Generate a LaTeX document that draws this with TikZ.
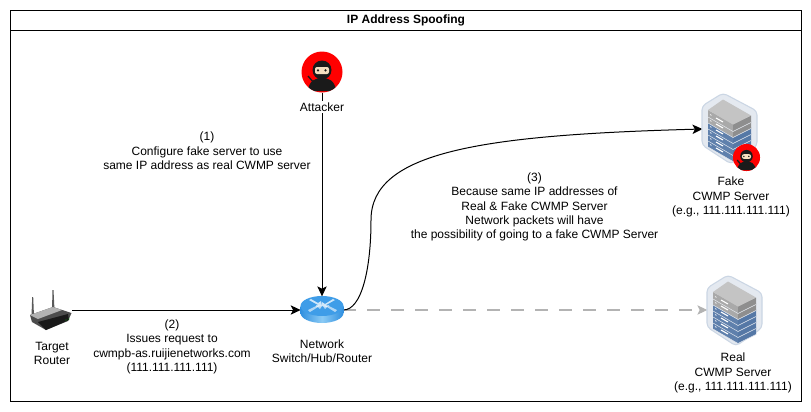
\documentclass[tikz,border=0pt]{standalone}
\usepackage{fontspec}
\setmainfont{Liberation Sans}
\usetikzlibrary{arrows.meta}
\definecolor{hexfill}{HTML}{E4E9F0}
\definecolor{hexline}{HTML}{CBD6E4}
\definecolor{gtop}{HTML}{C4C4C4}
\definecolor{gleft}{HTML}{A9A9A9}
\definecolor{gright}{HTML}{8E8E8E}
\definecolor{btop}{HTML}{7E9CC2}
\definecolor{bleft}{HTML}{5F80AC}
\definecolor{bright}{HTML}{5578A6}
\definecolor{skin}{HTML}{F5DFC0}
\definecolor{ink}{HTML}{1A1A1A}
\definecolor{ghostgrey}{HTML}{B3B3B3}
\definecolor{hubtop}{HTML}{3F9DE8}
\definecolor{hubedge}{HTML}{2F8FE0}
\definecolor{hubmid}{HTML}{8CCBF5}
\definecolor{slabseam}{HTML}{E8ECF2}
\tikzset{
  lbl/.style={font=\fontsize{9pt}{10.8pt}\selectfont,align=center,text=black,inner sep=1pt},
  iconbox/.style={inner sep=0pt,outer sep=0pt,draw=none,fill=none},
  flow/.style={draw=black,line width=.75pt,-{Stealth[length=7.5pt,width=7pt,inset=1.8pt]}},
  ghost/.style={draw=ghostgrey,line width=.8pt,dash pattern=on 9.75pt off 8.25pt,-{Stealth[length=7.5pt,width=7pt,inset=1.8pt]}},
  pics/ninja/.style={code={
    \fill[red] (0,0) circle[radius=20.5];
    \begin{scope}
      \clip (0,0) circle[radius=20.5];
      \draw[ink,line width=1pt] (-14,4) -- (-8,11);
      \fill[ink] (-14,19) .. controls (-13,8) and (-6,6) .. (0,6) .. controls (6,6) and (13,8) .. (14,19) -- cycle;
    \end{scope}
    \fill[ink] (0,-2) circle[radius=9.5];
    \fill[skin,rounded corners=1.5pt] (-7,-5) rectangle (7,2);
    \fill[ink] (-4,-1.6) circle[radius=1.2] (3.5,-1.6) circle[radius=1.2];
  }},
  pics/slab/.style args={#1/#2/#3}{code={
    \fill[#2] (6,17) -- (31,31.5) -- (31,38.5) -- (6,24) -- cycle;
    \fill[#3] (31,31.5) -- (49,22.5) -- (49,29.5) -- (31,38.5) -- cycle;
    \fill[#1] (21,6.5) -- (49,22.5) -- (31,31.5) -- (6,17) -- cycle;
    \draw[slabseam,line width=.35pt] (6,24) -- (31,38.5) -- (49,29.5);
    \draw[white,line width=.8pt] (14,25) -- (21,29);
    \draw[white,line width=.5pt] (8,21.5) -- (9.5,22.4);
  }},
  pics/server/.style={code={
    \draw[hexline,fill=hexfill,line width=.8pt,rounded corners=3pt]
      (21,0) -- (55,18) -- (55,53) -- (29,71) -- (0,52) -- (0,13) -- cycle;
    \foreach \d in {30,24,18,12}{\pic at (0,\d) {slab={btop/bleft/bright}};}
    \pic at (0,6) {slab={gtop/gleft/gright}};
    \pic at (0,0) {slab={gtop/gleft/gright}};
  }}
}
\begin{document}
\begin{tikzpicture}[x=.75pt,y=-.75pt]
\useasboundingbox (0,0) rectangle (811,411);
\fill[white] (0,0) rectangle (811,411);

% frame
\draw[black,line width=.75pt] (10,10) rectangle (801,401);
\draw[black,line width=.75pt] (10,30) -- (801,30);
\node[lbl,font=\fontsize{9pt}{10.8pt}\selectfont\bfseries] (title) at (406,20) {IP Address Spoofing};

% anchor boxes for icons
\node[iconbox,minimum width=31.5pt,minimum height=31pt] (attacker) at (322,72) {};
\node[iconbox,minimum width=32pt,minimum height=20.5pt] (hub) at (322,310) {};
\node[iconbox,minimum width=33pt,minimum height=30pt] (target) at (50,310) {};
\node[iconbox,minimum width=42pt,minimum height=60pt] (fake) at (730.5,129) {};
\node[iconbox,minimum width=40pt,minimum height=60pt] (real) at (734,310) {};

% connectors
\draw[ghost] (hub.east) -- (real.west);
\draw[flow] (attacker.south) -- (hub.north);
\draw[flow] (target.east) -- (hub.west);
\draw[flow] (hub.east) .. controls +(18,0) and (371,270) .. (371,220)
  .. controls (371,152) and (480,135) .. (fake.west);

% attacker
\pic at (322,72) {ninja};
\node[lbl,fill=white] (attackerlabel) at (322,107) {Attacker};

% target router
\fill[black!65] (32.2,297) -- (33.2,297) -- (34,316) -- (31.5,316) -- cycle;
\fill[black!65] (52.5,290) -- (53.5,290) -- (54.5,310) -- (52,310) -- cycle;
\fill[black!70] (30,315) -- (53,307) -- (71.5,313) -- (68,321) -- (46,330) -- (32,322) -- cycle;
\fill[black!30] (30,315) -- (53,307) -- (62,310) -- (38,319) -- cycle;
\fill[black!90] (38,322) -- (68,314) -- (69,320) -- (46,330) -- cycle;
\fill[green!60!black] (66,320) circle[radius=.7] (69,319) circle[radius=.7];
\node[lbl] (targetlabel) at (52,353.5) {Target\\Router};

% network hub
\shade[left color=hubedge,right color=hubedge,middle color=hubmid] (300.5,306) -- (300.5,313) arc[start angle=180,end angle=0,x radius=21.5,y radius=10] -- (343.5,306) -- cycle;
\fill[hubtop] (322,306) ellipse[x radius=21.5,y radius=10];
\fill[white,opacity=.75] (311,299) -- (318,303) -- (321,301) -- (322,306) -- (316,307) -- (318,305) -- (309,300) -- cycle;
\fill[white,opacity=.75] (333,299) -- (325,304) -- (322,302) -- (322,306) -- (328,307) -- (326,305) -- (335,300) -- cycle;
\fill[white,opacity=.6] (310,312) -- (318,307) -- (320,309) -- (322,306) -- (316,305) -- (316,306) -- (308,310) -- cycle;
\fill[white,opacity=.6] (335,312) -- (327,307) -- (325,309) -- (323,306) -- (329,305) -- (329,306) -- (337,310) -- cycle;
\node[lbl] (hublabel) at (322,351.5) {Network\\Switch/Hub/Router};

% servers
\pic at (702,93) {server};
\pic[scale=.66] at (746.5,157.5) {ninja};
\node[lbl] (fakelabel) at (731,197) {Fake\\CWMP Server\\(e.g., 111.111.111.111)};
\pic at (707,275) {server};
\node[lbl] (reallabel) at (733,373) {Real\\CWMP Server\\(e.g., 111.111.111.111)};

% edge notes
\node[lbl,fill=white] (note1) at (207,151) {(1)\\Configure fake server to use\\same IP address as real CWMP server};
\node[lbl] (note2) at (172,347) {(2)\\Issues request to\\cwmpb-as.ruijienetworks.com\\(111.111.111.111)};
\node[lbl] (note3) at (534.5,207) {(3)\\Because same IP addresses of\\Real \& Fake CWMP Server\\Network packets will have\\the possibility of going to a fake CWMP Server};
\end{tikzpicture}
\end{document}
